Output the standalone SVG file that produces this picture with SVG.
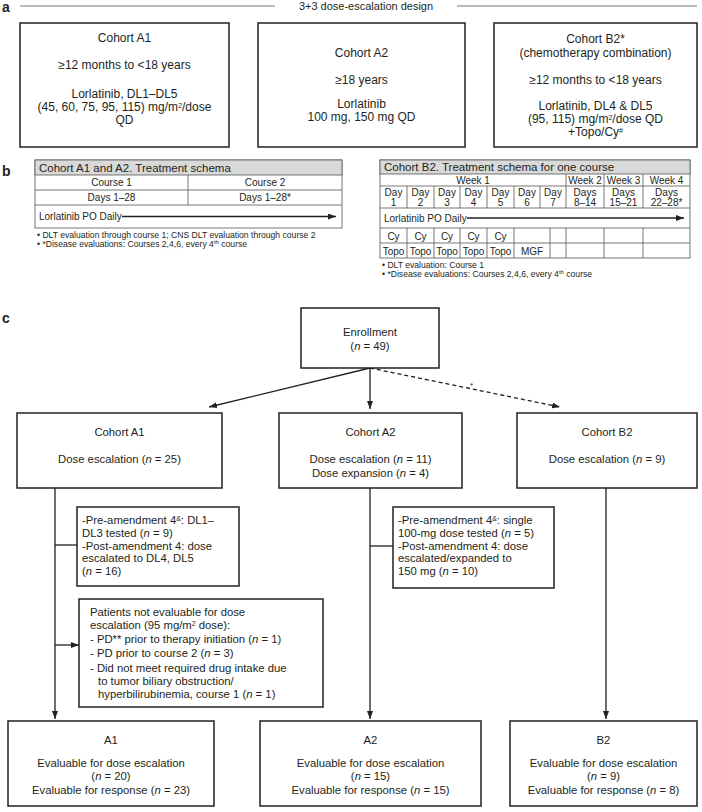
<svg xmlns="http://www.w3.org/2000/svg" width="702" height="812" viewBox="0 0 702 812">
<style>
.t{font-family:"Liberation Sans",Arial,sans-serif;font-size:12px;fill:#231f20}
.m{text-anchor:middle}
.lbl{font-weight:bold;font-size:14px}
.tb{font-size:10px}
.bul{font-size:8.6px}
.cf{font-size:11.3px}
.box{fill:#fff;stroke:#231f20;stroke-width:1.5}
.g{stroke:#555;stroke-width:0.8;fill:none}
.ln{stroke:#231f20;stroke-width:1.3;fill:none}
.hd{fill:#d9d9d9;stroke:#555;stroke-width:0.8}
.sup{font-size:7px}
</style>
<defs>
<marker id="ah" markerUnits="userSpaceOnUse" markerWidth="8" markerHeight="6" refX="8" refY="3" orient="auto"><path d="M0,0 L8,3 L0,6 z" fill="#231f20"/></marker>
</defs>

<!-- Panel a -->
<text class="t lbl" x="2" y="12">a</text>
<line class="g" x1="20" y1="6" x2="275" y2="6" stroke="#888"/>
<line class="g" x1="457" y1="6" x2="697" y2="6" stroke="#888"/>
<text class="t m" x="366" y="10" style="font-size:11px">3+3 dose-escalation design</text>

<g id="a-cohortA1">
<rect class="box" x="20" y="23" width="209" height="124"/>
<text class="t m" x="124.5" y="42">Cohort A1</text>
<text class="t m" x="124.5" y="69">≥12 months to &lt;18 years</text>
<text class="t m" x="124.5" y="98">Lorlatinib, DL1–DL5</text>
<text class="t m" x="124.5" y="111">(45, 60, 75, 95, 115) mg/m<tspan class="sup" baseline-shift="super">2</tspan>/dose</text>
<text class="t m" x="124.5" y="124">QD</text>
</g>
<g id="a-cohortA2">
<rect class="box" x="258" y="23" width="207" height="124"/>
<text class="t m" x="361.5" y="57">Cohort A2</text>
<text class="t m" x="361.5" y="84">≥18 years</text>
<text class="t m" x="361.5" y="108">Lorlatinib</text>
<text class="t m" x="361.5" y="121">100 mg, 150 mg QD</text>
</g>
<g id="a-cohortB2">
<rect class="box" x="494" y="23" width="203" height="124"/>
<text class="t m" x="595.5" y="43">Cohort B2*</text>
<text class="t m" x="595.5" y="57">(chemotherapy combination)</text>
<text class="t m" x="595.5" y="84">≥12 months to &lt;18 years</text>
<text class="t m" x="595.5" y="110">Lorlatinib, DL4 &amp; DL5</text>
<text class="t m" x="595.5" y="123">(95, 115) mg/m<tspan class="sup" baseline-shift="super">2</tspan>/dose QD</text>
<text class="t m" x="595.5" y="136">+Topo/Cy<tspan class="sup" baseline-shift="super">#</tspan></text>
</g>

<!-- Panel b -->
<text class="t lbl" x="2" y="176">b</text>
<g id="b-tableA">
<rect class="g" x="35" y="160" width="307" height="68"/>
<rect class="hd" x="35" y="160" width="307" height="15"/>
<line class="g" x1="35" y1="190" x2="342" y2="190"/>
<line class="g" x1="35" y1="205" x2="342" y2="205"/>
<line class="g" x1="188" y1="175" x2="188" y2="205"/>
<text class="t" x="39" y="171.5" style="font-size:11.5px">Cohort A1 and A2. Treatment schema</text>
<text class="t tb m" x="111.5" y="186">Course 1</text>
<text class="t tb m" x="265" y="186">Course 2</text>
<text class="t tb m" x="111.5" y="201">Days 1–28</text>
<text class="t tb m" x="265" y="201">Days 1–28*</text>
<text class="t tb" x="39" y="220">Lorlatinib PO Daily</text>
<line class="ln" x1="122" y1="216.5" x2="336" y2="216.5" marker-end="url(#ah)"/>
<text class="t bul" x="37" y="238">• DLT evaluation through course 1; CNS DLT evaluation through course 2</text>
<text class="t bul" x="37" y="247">• *Disease evaluations: Courses 2,4,6, every 4<tspan class="sup" baseline-shift="super" style="font-size:6px">th</tspan> course</text>
</g>

<g id="b-tableB">
<rect class="g" x="380" y="160" width="310" height="98"/>
<rect class="hd" x="380" y="160" width="310" height="14"/>
<line class="g" x1="380" y1="186" x2="690" y2="186"/>
<line class="g" x1="380" y1="208" x2="690" y2="208"/>
<line class="g" x1="380" y1="228" x2="690" y2="228"/>
<line class="g" x1="380" y1="243" x2="690" y2="243"/>
<path class="g" d="M566,174V208M604,174V208M643,174V208M407,186V208M434,186V208M460,186V208M487,186V208M514,186V208M540,186V208"/>
<path class="g" d="M407,228V258M434,228V258M460,228V258M487,228V258M514,228V258M550,228V258M566,228V258M604,228V258M643,228V258"/>
<text class="t" x="384" y="171" style="font-size:11.5px">Cohort B2. Treatment schema for one course</text>
<text class="t tb m" x="473" y="183.5">Week 1</text>
<text class="t tb m" x="585" y="183.5">Week 2</text>
<text class="t tb m" x="623.5" y="183.5">Week 3</text>
<text class="t tb m" x="666.5" y="183.5">Week 4</text>
<g class="t tb m">
<text x="393.5" y="195.5">Day</text><text x="393.5" y="205.5">1</text>
<text x="420.5" y="195.5">Day</text><text x="420.5" y="205.5">2</text>
<text x="447" y="195.5">Day</text><text x="447" y="205.5">3</text>
<text x="473.5" y="195.5">Day</text><text x="473.5" y="205.5">4</text>
<text x="500.5" y="195.5">Day</text><text x="500.5" y="205.5">5</text>
<text x="527" y="195.5">Day</text><text x="527" y="205.5">6</text>
<text x="553" y="195.5">Day</text><text x="553" y="205.5">7</text>
<text x="585" y="195.5">Days</text><text x="585" y="205.5">8–14</text>
<text x="623.5" y="195.5">Days</text><text x="623.5" y="205.5">15–21</text>
<text x="666.5" y="195.5">Days</text><text x="666.5" y="205.5">22–28*</text>
</g>
<text class="t tb" x="384" y="221.5">Lorlatinib PO Daily</text>
<line class="ln" x1="467" y1="218" x2="684" y2="218" marker-end="url(#ah)"/>
<g class="t tb m">
<text x="393.5" y="239.5">Cy</text><text x="420.5" y="239.5">Cy</text><text x="447" y="239.5">Cy</text><text x="473.5" y="239.5">Cy</text><text x="500.5" y="239.5">Cy</text>
<text x="393.5" y="254.5">Topo</text><text x="420.5" y="254.5">Topo</text><text x="447" y="254.5">Topo</text><text x="473.5" y="254.5">Topo</text><text x="500.5" y="254.5">Topo</text><text x="532" y="254.5">MGF</text>
</g>
<text class="t bul" x="382" y="268">• DLT evaluation: Course 1</text>
<text class="t bul" x="382" y="277">• *Disease evaluations: Courses 2,4,6, every 4<tspan class="sup" baseline-shift="super" style="font-size:6px">th</tspan> course</text>
</g>

<!-- Panel c -->
<text class="t lbl" x="2" y="323">c</text>

<g id="connectors">
<line class="ln" x1="370" y1="368" x2="209" y2="407" marker-end="url(#ah)"/>
<line class="ln" x1="370" y1="368" x2="370" y2="409" marker-end="url(#ah)"/>
<line class="ln" x1="370" y1="368" x2="560" y2="407" stroke-dasharray="4,3" marker-end="url(#ah)"/>
<text class="t" x="470" y="388" style="font-size:8px">*</text>
<line class="ln" x1="55" y1="488" x2="55" y2="719" marker-end="url(#ah)"/>
<line class="ln" x1="55" y1="545" x2="77" y2="545"/>
<line class="ln" x1="55" y1="645" x2="79" y2="645" marker-end="url(#ah)"/>
<line class="ln" x1="370" y1="488" x2="370" y2="719" marker-end="url(#ah)"/>
<line class="ln" x1="370" y1="546" x2="393" y2="546"/>
<line class="ln" x1="606" y1="488" x2="606" y2="719" marker-end="url(#ah)"/>
</g>

<g id="enrollment">
<rect class="box" x="301" y="308" width="138" height="60"/>
<text class="t cf m" x="370" y="336">Enrollment</text>
<text class="t cf m" x="370" y="350">(<tspan font-style="italic">n</tspan> = 49)</text>
</g>

<g id="c-cohortA1">
<rect class="box" x="17" y="413" width="205" height="75"/>
<text class="t cf m" x="119.5" y="436">Cohort A1</text>
<text class="t cf m" x="119.5" y="463">Dose escalation (<tspan font-style="italic">n</tspan> = 25)</text>
</g>
<g id="c-cohortA2">
<rect class="box" x="279" y="413" width="183" height="75"/>
<text class="t cf m" x="370.5" y="436">Cohort A2</text>
<text class="t cf m" x="370.5" y="463">Dose escalation (<tspan font-style="italic">n</tspan> = 11)</text>
<text class="t cf m" x="370.5" y="477">Dose expansion (<tspan font-style="italic">n</tspan> = 4)</text>
</g>
<g id="c-cohortB2">
<rect class="box" x="517" y="413" width="180" height="75"/>
<text class="t cf m" x="607" y="436">Cohort B2</text>
<text class="t cf m" x="607" y="463">Dose escalation (<tspan font-style="italic">n</tspan> = 9)</text>
</g>

<g id="c-notesA1">
<rect class="box" x="77" y="507" width="162" height="79"/>
<g class="t cf">
<text x="82" y="524">-Pre-amendment 4<tspan class="sup" baseline-shift="super">&amp;</tspan>: DL1–</text>
<text x="82" y="537">DL3 tested (<tspan font-style="italic">n</tspan> = 9)</text>
<text x="82" y="550">-Post-amendment 4: dose</text>
<text x="82" y="562">escalated to DL4, DL5</text>
<text x="82" y="575">(<tspan font-style="italic">n</tspan> = 16)</text>
</g>
</g>
<g id="c-notesA2">
<rect class="box" x="393" y="507" width="161" height="81"/>
<g class="t cf">
<text x="398" y="524">-Pre-amendment 4<tspan class="sup" baseline-shift="super">&amp;</tspan>: single</text>
<text x="398" y="537">100-mg dose tested (<tspan font-style="italic">n</tspan> = 5)</text>
<text x="398" y="550">-Post-amendment 4: dose</text>
<text x="398" y="562">escalated/expanded to</text>
<text x="398" y="575">150 mg (<tspan font-style="italic">n</tspan> = 10)</text>
</g>
</g>
<g id="c-notEvaluable">
<rect class="box" x="79" y="599" width="244" height="108"/>
<g class="t cf">
<text x="90" y="616">Patients not evaluable for dose</text>
<text x="90" y="629">escalation (95 mg/m<tspan class="sup" baseline-shift="super">2</tspan> dose):</text>
<text x="90" y="643">- PD** prior to therapy initiation (<tspan font-style="italic">n</tspan> = 1)</text>
<text x="90" y="657">- PD prior to course 2 (<tspan font-style="italic">n</tspan> = 3)</text>
<text x="90" y="672">- Did not meet required drug intake due</text>
<text x="98" y="685">to tumor biliary obstruction/</text>
<text x="98" y="698">hyperbilirubinemia, course 1 (<tspan font-style="italic">n</tspan> = 1)</text>
</g>
</g>

<g id="c-evalA1">
<rect class="box" x="8" y="721" width="206" height="85"/>
<text class="t cf m" x="111" y="744">A1</text>
<text class="t cf m" x="111" y="767">Evaluable for dose escalation</text>
<text class="t cf m" x="111" y="780">(<tspan font-style="italic">n</tspan> = 20)</text>
<text class="t cf m" x="111" y="794">Evaluable for response (<tspan font-style="italic">n</tspan> = 23)</text>
</g>
<g id="c-evalA2">
<rect class="box" x="260" y="721" width="221" height="85"/>
<text class="t cf m" x="370.5" y="744">A2</text>
<text class="t cf m" x="370.5" y="767">Evaluable for dose escalation</text>
<text class="t cf m" x="370.5" y="780">(<tspan font-style="italic">n</tspan> = 15)</text>
<text class="t cf m" x="370.5" y="794">Evaluable for response (<tspan font-style="italic">n</tspan> = 15)</text>
</g>
<g id="c-evalB2">
<rect class="box" x="510" y="721" width="187" height="85"/>
<text class="t cf m" x="603.5" y="744">B2</text>
<text class="t cf m" x="603.5" y="767">Evaluable for dose escalation</text>
<text class="t cf m" x="603.5" y="780">(<tspan font-style="italic">n</tspan> = 9)</text>
<text class="t cf m" x="603.5" y="794">Evaluable for response (<tspan font-style="italic">n</tspan> = 8)</text>
</g>
</svg>
